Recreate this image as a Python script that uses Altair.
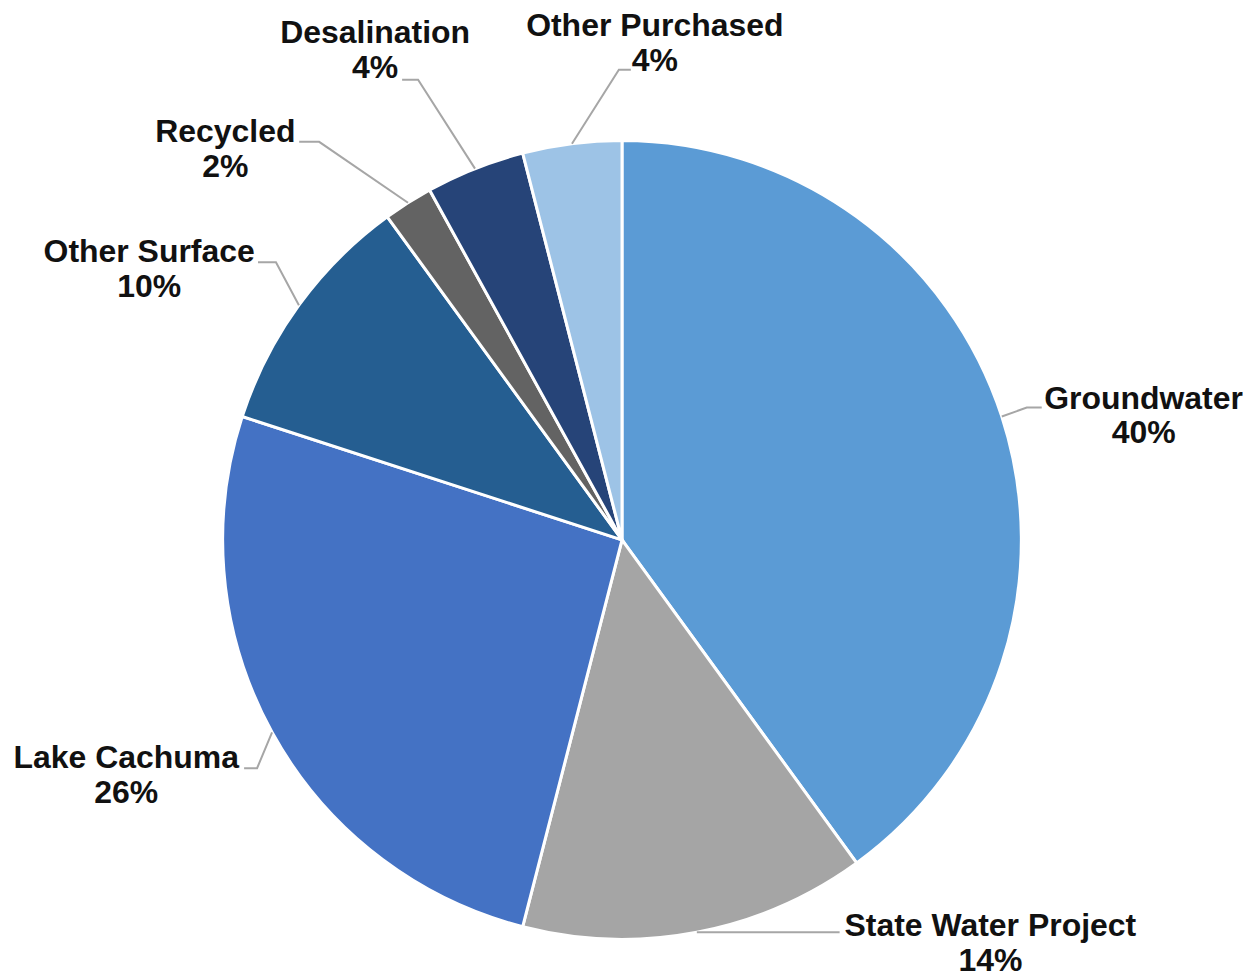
import math
import altair as alt
import pandas as pd

# ---- data ----
categories = ["Groundwater", "State Water Project", "Lake Cachuma", "Other Surface",
              "Recycled", "Desalination", "Other Purchased"]
shares = [40, 14, 26, 10, 2, 4, 4]

# ---- style ----
colors = ["#5B9BD5", "#A5A5A5", "#4472C4", "#255E91", "#636363", "#264478", "#9DC3E6"]
FONT = "Liberation Sans, Arial, Helvetica, sans-serif"
FONT_SIZE = 32
LINE_GAP = 35

# ---- layout (pixels) ----
W, H = 1235, 964          # plot area
CX, CY = 615, 532         # pie centre inside plot area
R = 400                   # pie radius
# label text nudge from the slice's outer-edge anchor (x right, y down)
text_nudge = [(142, -8), (294, 4), (-146, 36), (-150, -43), (-183, -61), (-100, -126), (83, -108)]
# leader-line end nudge from the same anchor, and horizontal elbow length
leader_end = [(40, -9), (143, 0), (-28, 36), (-41, -43), (-109, -61), (-73, -89), (59, -74)]
elbow = [-15, -15, 13, 18, 20, 16, -12]

# ---- derived tables ----
total = float(sum(shares))
pie_rows, label_rows, line_rows = [], [], []
cum = 0.0
for i, (c, v) in enumerate(zip(categories, shares)):
    mid = (cum + v / 2.0) / total * 2 * math.pi
    cum += v
    ex, ey = math.sin(mid), math.cos(mid)
    pie_rows.append({"cat": c, "share": v, "idx": i})
    tx, ty = text_nudge[i]
    label_rows.append({"cat": c, "pct": f"{v}%", "x": ex + tx / R, "y": ey - ty / R})
    lx, ly = leader_end[i]
    endx, endy = ex + lx / R, ey - ly / R
    pts = [(ex, ey), (endx + elbow[i] / R, endy), (endx, endy)]
    for k, (px, py) in enumerate(pts):
        line_rows.append({"cat": c, "k": k, "x": px, "y": py})

pie_df = pd.DataFrame(pie_rows)
label_df = pd.DataFrame(label_rows)
line_df = pd.DataFrame(line_rows)

xs = alt.Scale(domain=[-CX / R, (W - CX) / R], nice=False, zero=False)
ys = alt.Scale(domain=[-(H - CY) / R, CY / R], nice=False, zero=False)

pie = alt.Chart(pie_df).mark_arc(outerRadius=R, stroke="white", strokeWidth=3).encode(
    theta=alt.Theta("share:Q", stack=True),
    color=alt.Color("cat:N", scale=alt.Scale(domain=categories, range=colors), legend=None),
    order=alt.Order("idx:Q"),
    x=alt.XDatum(0, type="quantitative", scale=xs, axis=None),
    y=alt.YDatum(0, type="quantitative", scale=ys, axis=None),
)

leaders = alt.Chart(line_df).mark_line(color="#A6A6A6", strokeWidth=2).encode(
    x=alt.X("x:Q", scale=xs, axis=None),
    y=alt.Y("y:Q", scale=ys, axis=None),
    detail="cat:N",
    order="k:Q",
)

names = alt.Chart(label_df).mark_text(
    font=FONT, fontSize=FONT_SIZE, fontWeight="bold", color="#111111",
    align="center", baseline="alphabetic"
).encode(
    x=alt.X("x:Q", scale=xs, axis=None),
    y=alt.Y("y:Q", scale=ys, axis=None),
    text="cat:N",
)

pcts = alt.Chart(label_df).mark_text(
    font=FONT, fontSize=FONT_SIZE, fontWeight="bold", color="#111111",
    align="center", baseline="alphabetic", dy=LINE_GAP
).encode(
    x=alt.X("x:Q", scale=xs, axis=None),
    y=alt.Y("y:Q", scale=ys, axis=None),
    text="pct:N",
)

chart = alt.layer(pie, leaders, names, pcts).properties(
    width=W, height=H, padding=0, background="white"
).configure_view(stroke=None)

chart.save("out.html", embed_options={"renderer": "svg", "actions": False})
